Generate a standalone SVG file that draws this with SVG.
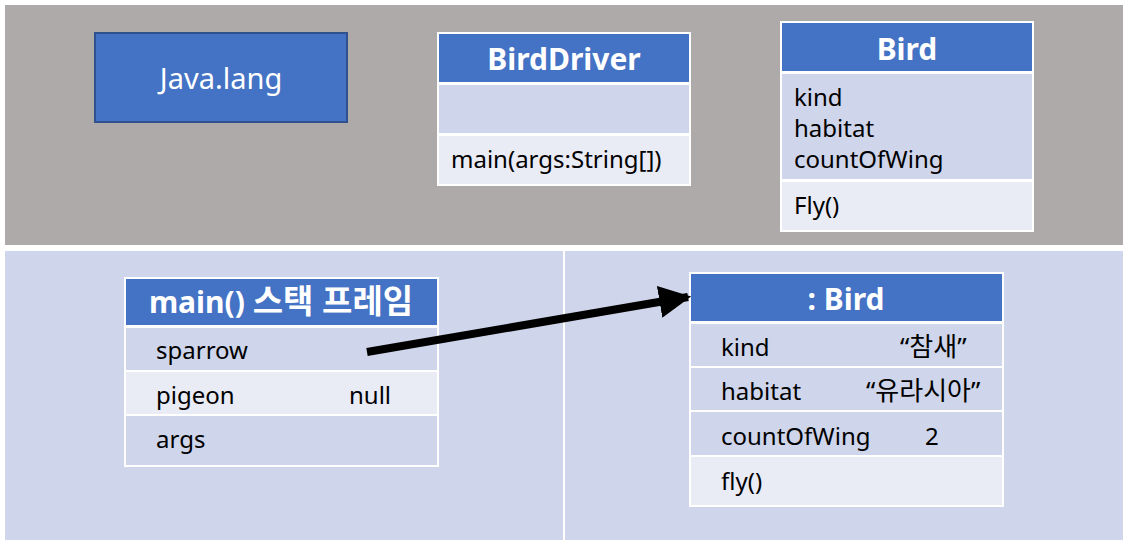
<svg xmlns="http://www.w3.org/2000/svg" width="1128" height="545" viewBox="0 0 1128 545">
<defs>
<style>
text{font-family:"Noto Sans","Noto Sans CJK KR",sans-serif;fill:#000;font-size:24px}
.h{fill:#fff;font-weight:bold;font-size:30px;text-anchor:middle}
.k{font-size:26px}
.hd{fill:#4472C4;stroke:#fff;stroke-width:2}
.r1{fill:#CFD5EA;stroke:#fff;stroke-width:2}
.r2{fill:#E9EBF5;stroke:#fff;stroke-width:2}
</style>
<marker id="ah" viewBox="0 0 10 10" refX="9" refY="5" markerWidth="4" markerHeight="4" orient="auto" markerUnits="strokeWidth">
<path d="M0,0 L10,5 L0,10 z" fill="#000"/>
</marker>
</defs>
<rect width="1128" height="545" fill="#fff"/>
<rect id="top-panel" x="5" y="5" width="1118" height="240" fill="#AEAAA9"/>
<rect id="stack-panel" x="5" y="251" width="558" height="289" fill="#CFD5EA"/>
<rect id="heap-panel" x="565" y="251" width="558" height="289" fill="#CFD5EA"/>

<g id="javalang">
<rect x="95" y="33" width="252" height="89" fill="#4472C4" stroke="#2F528F" stroke-width="2"/>
<text x="221" y="89" style="fill:#fff;font-size:29px;text-anchor:middle">Java.lang</text>
</g>

<g id="birddriver">
<rect class="hd" x="438" y="33" width="252" height="50"/>
<rect class="r1" x="438" y="84" width="252" height="50"/>
<rect class="r2" x="438" y="135" width="252" height="50"/>
<text class="h" x="564" y="70">BirdDriver</text>
<text x="451" y="168">main(args:String[])</text>
</g>

<g id="bird">
<rect class="hd" x="781" y="22" width="252" height="50"/>
<rect class="r1" x="781" y="73" width="252" height="107"/>
<rect class="r2" x="781" y="181" width="252" height="50"/>
<text class="h" x="907" y="60">Bird</text>
<text x="794" y="106">kind</text>
<text x="794" y="137">habitat</text>
<text x="794" y="168">countOfWing</text>
<text x="794" y="214">Fly()</text>
</g>

<g id="stack-frame">
<rect class="hd" x="125" y="278" width="313" height="48"/>
<rect class="r1" x="125" y="327" width="313" height="44"/>
<rect class="r2" x="125" y="371" width="313" height="44"/>
<rect class="r1" x="125" y="415" width="313" height="51"/>
<text class="h" x="281" y="313">main() <tspan style="font-size:33px">스택 프레임</tspan></text>
<text x="156" y="359">sparrow</text>
<text x="156" y="404">pigeon</text>
<text x="349" y="404">null</text>
<text x="156" y="448">args</text>
</g>

<g id="bird-object">
<rect class="hd" x="690" y="273" width="313" height="49"/>
<rect class="r1" x="690" y="323" width="313" height="44"/>
<rect class="r1" x="690" y="367" width="313" height="44"/>
<rect class="r1" x="690" y="411" width="313" height="45"/>
<rect class="r2" x="690" y="456" width="313" height="50"/>
<text class="h" x="846" y="310">: Bird</text>
<text x="721" y="356">kind</text>
<text class="k" x="900" y="356">“참새”</text>
<text x="721" y="400">habitat</text>
<text class="k" x="866" y="400">“유라시아”</text>
<text x="721" y="445">countOfWing</text>
<text x="925" y="445">2</text>
<text x="721" y="490">fly()</text>
</g>

<g id="connectors">
<line x1="367" y1="352" x2="688" y2="297" stroke="#000" stroke-width="8" marker-end="url(#ah)"/>
</g>
</svg>
